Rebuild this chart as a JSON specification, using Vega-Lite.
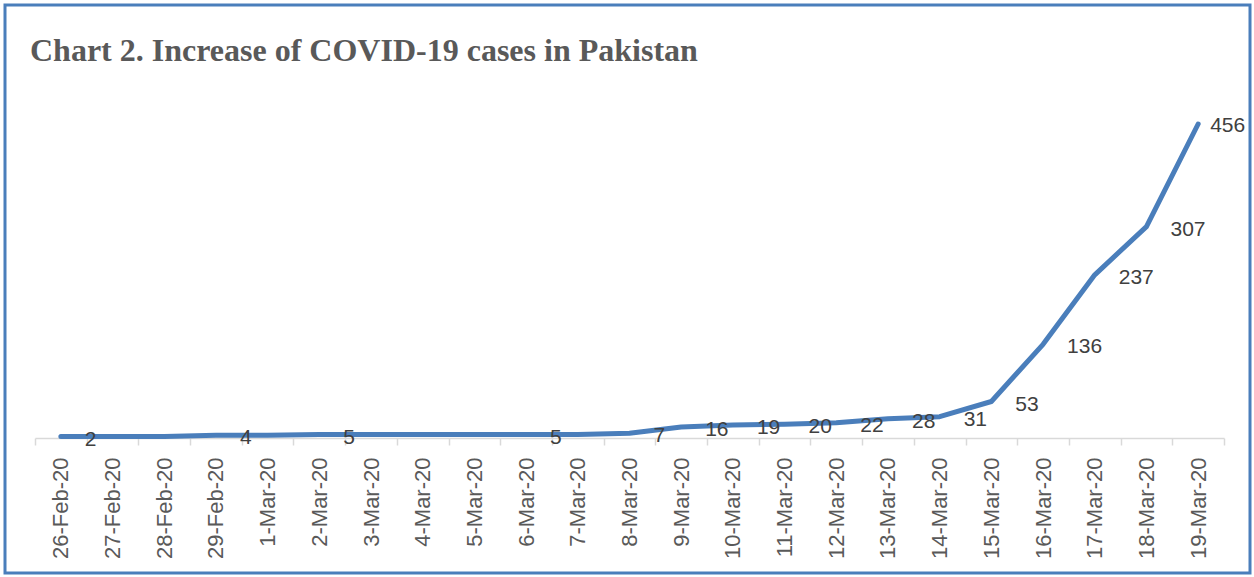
{
  "$schema": "https://vega.github.io/schema/vega-lite/v6.json",
  "width": 1245,
  "height": 568,
  "autosize": {"type": "none"},
  "padding": {"left": 5, "top": 5, "right": 4, "bottom": 4},
  "background": "white",
  "title": {
    "text": "Chart 2. Increase of COVID-19 cases in Pakistan",
    "anchor": "start",
    "frame": "group",
    "orient": "top",
    "offset": -88,
    "baseline": "alphabetic",
    "dx": 25,
    "font": "Liberation Serif",
    "fontSize": 32,
    "fontWeight": "bold",
    "color": "#595959"
  },
  "config": {"view": {"stroke": "#4a7ebb", "strokeWidth": 3}},
  "data": {
    "values": [
      {"date": "26-Feb-20", "cases": 2, "labelled": true},
      {"date": "27-Feb-20", "cases": 2, "labelled": false},
      {"date": "28-Feb-20", "cases": 2, "labelled": false},
      {"date": "29-Feb-20", "cases": 4, "labelled": true},
      {"date": "1-Mar-20", "cases": 4, "labelled": false},
      {"date": "2-Mar-20", "cases": 5, "labelled": true},
      {"date": "3-Mar-20", "cases": 5, "labelled": false},
      {"date": "4-Mar-20", "cases": 5, "labelled": false},
      {"date": "5-Mar-20", "cases": 5, "labelled": false},
      {"date": "6-Mar-20", "cases": 5, "labelled": true},
      {"date": "7-Mar-20", "cases": 5, "labelled": false},
      {"date": "8-Mar-20", "cases": 7, "labelled": true},
      {"date": "9-Mar-20", "cases": 16, "labelled": true},
      {"date": "10-Mar-20", "cases": 19, "labelled": true},
      {"date": "11-Mar-20", "cases": 20, "labelled": true},
      {"date": "12-Mar-20", "cases": 22, "labelled": true},
      {"date": "13-Mar-20", "cases": 28, "labelled": true},
      {"date": "14-Mar-20", "cases": 31, "labelled": true},
      {"date": "15-Mar-20", "cases": 53, "labelled": true},
      {"date": "16-Mar-20", "cases": 136, "labelled": true},
      {"date": "17-Mar-20", "cases": 237, "labelled": true},
      {"date": "18-Mar-20", "cases": 307, "labelled": true},
      {"date": "19-Mar-20", "cases": 456, "labelled": true}
    ]
  },
  "encoding": {
    "x": {
      "field": "date",
      "type": "ordinal",
      "sort": null,
      "scale": {"type": "band", "range": [30, 1219], "paddingInner": 0, "paddingOuter": 0},
      "axis": {
        "title": null,
        "labelAngle": -90,
        "labelFontSize": 22,
        "labelFont": "Liberation Sans",
        "labelColor": "#595959",
        "labelOverlap": false,
        "tickBand": "extent",
        "tickSize": 7,
        "tickColor": "#d9d9d9",
        "tickWidth": 1.5,
        "domainColor": "#d9d9d9",
        "domainWidth": 1.5,
        "labelPadding": 12,
        "offset": -135,
        "grid": false
      }
    },
    "y": {
      "field": "cases",
      "type": "quantitative",
      "scale": {"domain": [0, 456], "range": [433, 119], "nice": false, "zero": true},
      "axis": null
    }
  },
  "layer": [
    {
      "mark": {"type": "line", "color": "#4a7ebb", "strokeWidth": 5, "strokeCap": "round", "strokeJoin": "round"}
    },
    {
      "transform": [{"filter": "datum.labelled && datum.date != '19-Mar-20'"}],
      "mark": {"type": "text", "align": "left", "baseline": "middle", "dx": 24, "dy": 3, "font": "Liberation Sans", "fontSize": 21, "color": "#404040"},
      "encoding": {"text": {"field": "cases", "type": "quantitative"}}
    },
    {
      "transform": [{"filter": "datum.date == '19-Mar-20'"}],
      "mark": {"type": "text", "align": "left", "baseline": "middle", "dx": 12, "dy": 2, "font": "Liberation Sans", "fontSize": 21, "color": "#404040"},
      "encoding": {"text": {"field": "cases", "type": "quantitative"}}
    }
  ]
}
